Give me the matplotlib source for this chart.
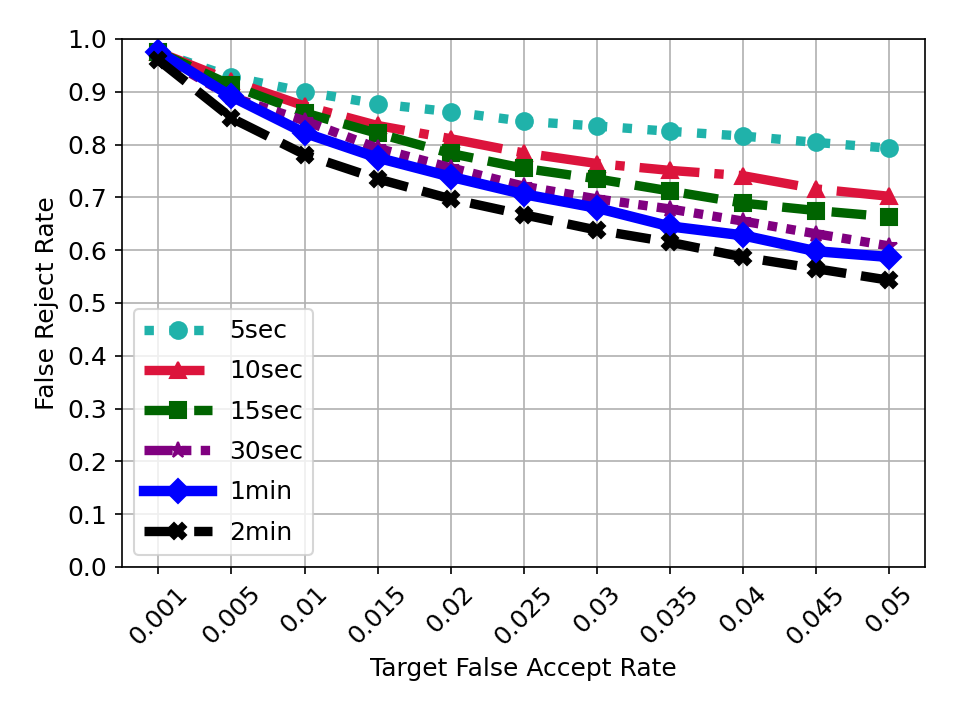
import matplotlib
matplotlib.use('Agg')
import matplotlib.pyplot as plt

# x categories (target FAR)
far_labels = ['0.001', '0.005', '0.01', '0.015', '0.02', '0.025',
              '0.03', '0.035', '0.04', '0.045', '0.05']

frr_5sec = [0.975, 0.928, 0.900, 0.877, 0.862, 0.844, 0.835, 0.825, 0.816, 0.804, 0.793]
frr_10sec = [0.975, 0.920, 0.873, 0.836, 0.811, 0.784, 0.764, 0.751, 0.741, 0.716, 0.702]
frr_15sec = [0.975, 0.912, 0.860, 0.821, 0.783, 0.755, 0.735, 0.712, 0.689, 0.675, 0.663]
frr_30sec = [0.970, 0.890, 0.845, 0.793, 0.756, 0.721, 0.697, 0.678, 0.655, 0.631, 0.608]
frr_1min = [0.976, 0.891, 0.822, 0.775, 0.739, 0.706, 0.680, 0.645, 0.628, 0.598, 0.587]
frr_2min = [0.960, 0.850, 0.781, 0.735, 0.697, 0.667, 0.638, 0.615, 0.587, 0.565, 0.543]

series = [
    ('5sec', frr_5sec, 'lightseagreen', ':', 'o'),
    ('10sec', frr_10sec, 'crimson', '-.', '^'),
    ('15sec', frr_15sec, 'darkgreen', '--', 's'),
    ('30sec', frr_30sec, 'purple', (0, (3, 1, 1, 1, 1, 1)), '*'),
    ('1min', frr_1min, 'blue', '-', 'D'),
    ('2min', frr_2min, 'black', '--', 'X'),
]

plt.rcParams['font.size'] = 12

fig = plt.figure(figsize=(6.4, 4.8), dpi=150)
ax = fig.add_subplot(111)
x = list(range(len(far_labels)))
for name, vals, col, ls, mk in series:
    lw = 5 if name == '1min' else 4.5
    ax.plot(x, vals, color=col, linestyle=ls, marker=mk, markersize=8,
            linewidth=lw, label=name)

ax.set_xticks(x)
ax.set_xticklabels(far_labels, rotation=45)
ax.set_ylim(0, 1.0)
ax.set_yticks([i / 10 for i in range(11)])
ax.set_xlim(-0.5, len(far_labels) - 0.5)
ax.grid(True)
ax.set_xlabel('Target False Accept Rate')
ax.set_ylabel('False Reject Rate')
ax.legend(loc='lower left', labelspacing=0.65, handlelength=2.7,
          handletextpad=0.7)
fig.subplots_adjust(left=0.127, right=0.964, top=0.946, bottom=0.2125)
fig.savefig('out.png')
